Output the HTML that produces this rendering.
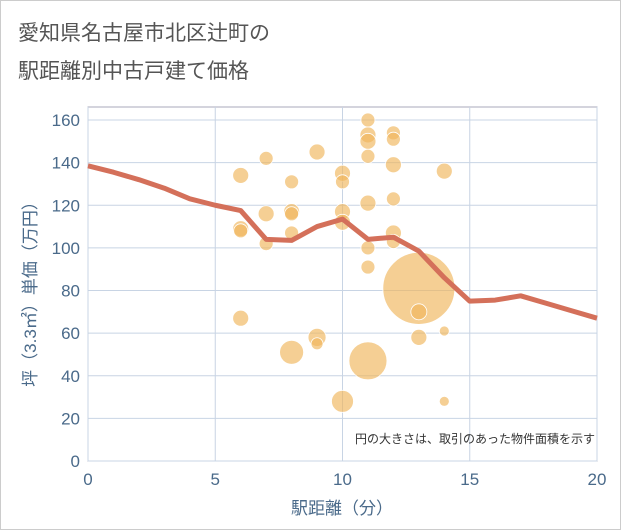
<!DOCTYPE html>
<html><head><meta charset="utf-8"><style>
body{margin:0;background:#fff;font-family:"Liberation Sans","Noto Sans CJK JP",sans-serif}
#wrap{position:relative;width:621px;height:530px;overflow:hidden}
text{font-family:"Liberation Sans","Noto Sans CJK JP",sans-serif}
</style></head><body>
<div id="wrap">
<svg id="svg" width="621" height="530">
<rect x="0.5" y="0.5" width="620" height="529" fill="#fff" stroke="#ccc"/>
<text x="18" y="40" font-size="21" fill="#555">愛知県名古屋市北区辻町の</text>
<text x="18" y="78" font-size="21" fill="#555">駅距離別中古戸建て価格</text>
<g id="grid"></g><g id="bubbles"></g><g id="line"></g><g id="axes"></g>
<text x="595" y="443" font-size="12" fill="#333" text-anchor="end">円の大きさは、取引のあった物件面積を示す</text>
<text x="342" y="514" font-size="17" fill="#4a6a8a" text-anchor="middle">駅距離（分）</text>
<text transform="translate(36,290) rotate(-90)" font-size="17" fill="#4a6a8a" text-anchor="middle">坪（3.3㎡）単価（万円）</text>
</svg></div>
<script>
const xTicks=[0,5,10,15,20];
const yTicks=[0,20,40,60,80,100,120,140,160];
const bubbleX=[6,6,6,6,7,7,7,8,8,8,8,8,9,9,9,10,10,10,10,10,11,11,11,11,11,11,11,11,12,12,12,12,12,12,13,13,13,14,14,14];
const bubbleY=[134,109,108,67,142,116,102,131,117,116,107,51,145,58,55,135,131,117,112,28,160,153,150,143,121,100,91,47,154,151,139,123,107,103,81,70,58,136,61,28];
const bubbleR=[8,8,7,8,7,8,7,7,8,7,7,12,8,9,6,8,7,8,8,11,7,8,8,7,8,7,7,19,7,7,8,7,8,7,36,8,8,8,5,5];
const lineX=[0,1,2,3,4,5,6,7,8,9,10,11,12,13,14,15,16,17,18,19,20];
const lineY=[138.5,135.5,132,128,123,120,117.5,104,103.5,110,113.5,104,105,98.5,86,75,75.5,77.5,74,70.5,67];
const L=88,R=597,T=107,B=461;
const sx=v=>L+(v-0)/(20-0)*(R-L);
const sy=v=>B-(v-0)/(160-0)*(461-120);
const NS="http://www.w3.org/2000/svg";
function mk(t,a,p){const e=document.createElementNS(NS,t);for(const k in a)e.setAttribute(k,a[k]);p.appendChild(e);return e;}
const grid=document.getElementById('grid'),axes=document.getElementById('axes');
const bg=mk('rect',{x:L,y:T,width:R-L,height:B-T,fill:'#fff',stroke:'#aab'},grid);


yTicks.forEach(v=>{const g=mk('line',{x1:L,x2:R,y1:sy(v),y2:sy(v),stroke:'#c8d4e4','stroke-width':1},grid);


const t=mk('text',{x:L-8,y:sy(v)+6,'font-size':17,fill:'#4a6a8a','text-anchor':'end'},axes);t.textContent=v;

});
xTicks.forEach(v=>{const g=mk('line',{x1:sx(v),x2:sx(v),y1:T,y2:B,stroke:'#c8d4e4','stroke-width':1},grid);


const t=mk('text',{x:sx(v),y:B+24,'font-size':17,fill:'#4a6a8a','text-anchor':'middle'},axes);t.textContent=v;

});
const bb=document.getElementById('bubbles');
bubbleX.forEach((x,i)=>{const c=mk('circle',{cx:sx(x),cy:sy(bubbleY[i]),r:bubbleR[i],fill:'#f0b65a','fill-opacity':0.65,stroke:'#fff','stroke-width':0.8},bb);

});
const pts=lineX.map((x,i)=>sx(x)+','+sy(lineY[i])).join(' ');
const pl=mk('polyline',{points:pts,fill:'none',stroke:'#d4705a','stroke-width':5,'stroke-linejoin':'round'},document.getElementById('line'));


</script></body></html>
